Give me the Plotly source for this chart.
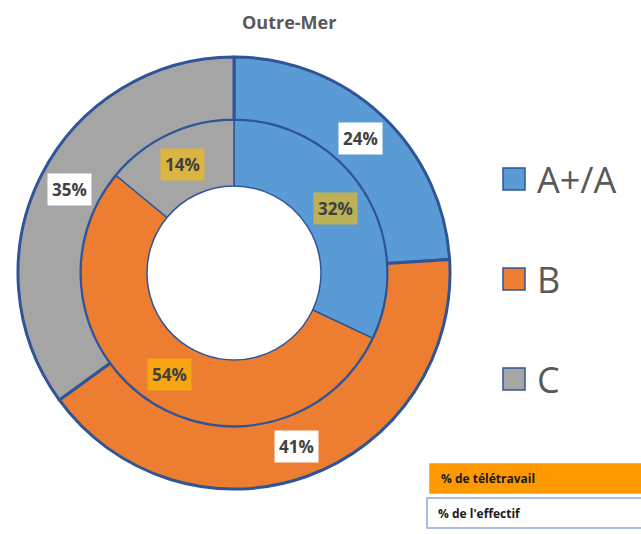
import math
import plotly.graph_objects as go

categories = ["A+/A", "B", "C"]
effectif = [24, 41, 35]        # outer ring: % de l'effectif
teletravail = [32, 54, 14]     # inner ring: % de télétravail
colors = ["#5B9BD5", "#ED7D31", "#A5A5A5"]
title = "Outre-Mer"
box_labels = ["% de télétravail", "% de l'effectif"]

W, H = 641, 534
CX, CY = 234, 273            # pie centre in window px
R_OUT, R_MID, R_IN = 216, 153, 87
EDGE = "#2F5597"
TXT = "#404040"

def px2paper(x, y):
    return x / W, 1 - y / H

fig = go.Figure()

def dom(r):
    x0, y1 = px2paper(CX - r, CY - r)
    x1, y0 = px2paper(CX + r, CY + r)
    return dict(x=[x0, x1], y=[y0, y1])

fig.add_trace(go.Pie(
    labels=categories, values=effectif, sort=False, direction="clockwise", rotation=0,
    hole=R_MID / R_OUT, domain=dom(R_OUT), textinfo="none", hoverinfo="label+value",
    marker=dict(colors=colors, line=dict(color=EDGE, width=3)), showlegend=False,
))
fig.add_trace(go.Pie(
    labels=categories, values=teletravail, sort=False, direction="clockwise", rotation=0,
    hole=R_IN / R_MID, domain=dom(R_MID), textinfo="none", hoverinfo="label+value",
    marker=dict(colors=colors, line=dict(color=EDGE, width=1.5)), showlegend=False,
))

annotations = []
shapes = []

def ring_labels(values, r_lo, r_hi, bg):
    total = sum(values)
    start = 0.0
    for v in values:
        mid = (start + v / 2) / total * 2 * math.pi
        start += v
        r = (r_lo + r_hi) / 2
        x = CX + r * math.sin(mid)
        y = CY - r * math.cos(mid)
        px, py = px2paper(x, y)
        annotations.append(dict(
            x=px, y=py, xref="paper", yref="paper", showarrow=False,
            xanchor="center", yanchor="middle",
            text=f"<b>{v}%</b>", font=dict(family="Open Sans", size=17, color=TXT),
            bgcolor=bg, borderpad=4,
        ))

ring_labels(effectif, R_MID, R_OUT, "#FFFFFF")
ring_labels(teletravail, R_IN, R_MID, "rgba(255,192,0,0.6)")

# custom legend
for i, (cat, col) in enumerate(zip(categories, colors)):
    yc = 179 + i * 100
    x0, y1 = px2paper(503, yc - 11)
    x1, y0 = px2paper(525, yc + 11)
    shapes.append(dict(type="rect", xref="paper", yref="paper", x0=x0, x1=x1, y0=y0, y1=y1,
                       fillcolor=col, line=dict(color=EDGE, width=1.5)))
    tx, ty = px2paper(535, yc)
    annotations.append(dict(x=tx, y=ty, xref="paper", yref="paper", showarrow=False,
                            xanchor="left", yanchor="middle", text=cat,
                            font=dict(family="Open Sans", size=36, color="#595959")))

# title
tx, ty = px2paper(289, 22)
annotations.append(dict(x=tx, y=ty, xref="paper", yref="paper", showarrow=False,
                        xanchor="center", yanchor="middle",
                        text=f"<b>{title}</b>",
                        font=dict(family="Open Sans", size=18, color="#595959")))

# bottom boxes
bx = [(430, 464, 645, 493, "#FF9900", "#FF9900"), (427, 498, 645, 528, "#FFFFFF", "#8EA9DB")]
for (x0p, y0p, x1p, y1p, fill, ln), lab in zip(bx, box_labels):
    x0, y1 = px2paper(x0p, y0p)
    x1, y0 = px2paper(x1p, y1p)
    shapes.append(dict(type="rect", xref="paper", yref="paper", x0=x0, x1=x1, y0=y0, y1=y1,
                       fillcolor=fill, line=dict(color=ln, width=1.5)))
    ax, ay = px2paper(x0p + 9, (y0p + y1p) / 2)
    annotations.append(dict(x=ax, y=ay, xref="paper", yref="paper", showarrow=False,
                            xanchor="left", yanchor="middle", text=f"<b>{lab}</b>",
                            font=dict(family="Open Sans", size=12, color="#1a1a1a")))

fig.update_layout(
    width=W, height=H, margin=dict(l=0, r=0, t=0, b=0),
    paper_bgcolor="white", plot_bgcolor="white",
    annotations=annotations, shapes=shapes,
)

fig.write_html(
    "out.html",
    config={"displayModeBar": False},
    post_script="document.body.style.margin='0';document.body.style.overflow='hidden';",
)
